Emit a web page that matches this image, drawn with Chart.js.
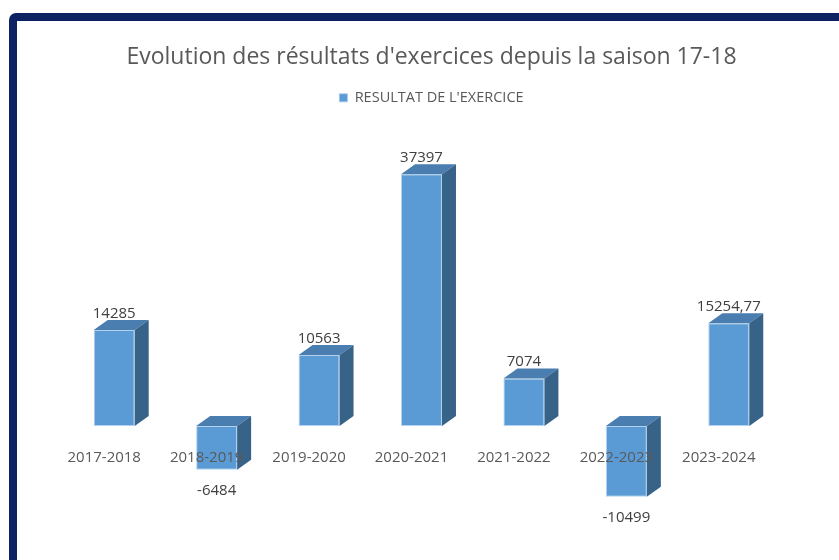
<!DOCTYPE html>
<html>
<head>
<meta charset="utf-8">
<script src="https://cdn.jsdelivr.net/npm/chart.js@4"></script>
<style>
  html, body { margin: 0; padding: 0; background: #fff; overflow: hidden; }
  #frame {
    position: absolute; left: 9px; top: 13px; width: 900px; height: 620px;
    border: 8px solid #0c2262; border-radius: 7px; box-sizing: border-box;
  }
  #wrap { position: absolute; left: 0; top: 0; width: 839px; height: 560px; }
</style>
</head>
<body>
<div id="frame"></div>
<div id="wrap"><canvas id="chart" width="839" height="560"></canvas></div>
<script>
const seasons = ['2017-2018', '2018-2019', '2019-2020', '2020-2021', '2021-2022', '2022-2023', '2023-2024'];
const results = [14285, -6484, 10563, 37397, 7074, -10499, 15254.77];

const FONT = "'Open Sans', sans-serif";
const DX = 14, DY = 10;

// faces on top and right of each bar, plus value and season labels
const bars3d = {
  id: 'bars3d',
  afterDatasetsDraw(chart) {
    const ctx = chart.ctx;
    const meta = chart.getDatasetMeta(0);
    const zero = chart.scales.y.getPixelForValue(0);
    ctx.save();
    meta.data.forEach((bar, i) => {
      const p = bar.getProps(['x', 'y', 'base', 'width'], true);
      const l = p.x - p.width / 2, r = p.x + p.width / 2;
      const top = Math.min(p.y, p.base), bot = Math.max(p.y, p.base);

      ctx.fillStyle = '#4a7db0';
      ctx.beginPath();
      ctx.moveTo(l, top); ctx.lineTo(l + DX, top - DY);
      ctx.lineTo(r + DX, top - DY); ctx.lineTo(r, top); ctx.closePath();
      ctx.fill();

      ctx.fillStyle = '#386389';
      ctx.beginPath();
      ctx.moveTo(r, top); ctx.lineTo(r + DX, top - DY);
      ctx.lineTo(r + DX, bot - DY); ctx.lineTo(r, bot); ctx.closePath();
      ctx.fill();

      const v = results[i];
      ctx.fillStyle = '#404040';
      ctx.font = '15px ' + FONT;
      ctx.textAlign = 'center';
      ctx.textBaseline = 'alphabetic';
      const txt = String(v).replace('.', ',');
      if (v >= 0) ctx.fillText(txt, p.x, top - 12);
      else ctx.fillText(txt, p.x, bot + 25);
    });
    ctx.fillStyle = '#595959';
    ctx.font = '15px ' + FONT;
    seasons.forEach((s, i) => {
      ctx.fillText(s, chart.scales.x.getPixelForValue(i) - 10, zero + 36);
    });
    ctx.restore();
  }
};

new Chart(document.getElementById('chart'), {
  type: 'bar',
  data: {
    labels: seasons,
    datasets: [{
      label: "RESULTAT DE L'EXERCICE",
      data: results,
      backgroundColor: '#5b9bd5',
      borderColor: 'rgba(160,198,235,0.8)',
      borderWidth: 1,
      borderSkipped: false,
      barPercentage: 0.8,
      categoryPercentage: 0.5
    }]
  },
  options: {
    responsive: false,
    animation: false,
    layout: { padding: { left: 63, right: 39, top: 0, bottom: 33 } },
    scales: {
      x: { display: false },
      y: { display: false, min: -15000, max: 46200 },
      // empty spacer so title and legend sit a bit right of the bars' centre
      spacer: {
        position: 'right',
        display: true,
        grid: { display: false },
        border: { display: false },
        ticks: { display: false },
        afterFit(axis) { axis.width = 20; }
      }
    },
    plugins: {
      tooltip: { enabled: false },
      title: {
        display: true,
        text: "Evolution des résultats d'exercices depuis la saison 17-18",
        color: '#595959',
        font: { family: FONT, size: 23, weight: 'normal' },
        padding: { top: 44, bottom: 7 }
      },
      legend: {
        display: true,
        labels: {
          color: '#595959',
          font: { family: FONT, size: 14.5 },
          boxWidth: 8, boxHeight: 8,
          padding: 12
        }
      }
    }
  },
  plugins: [bars3d]
});
</script>
</body>
</html>
